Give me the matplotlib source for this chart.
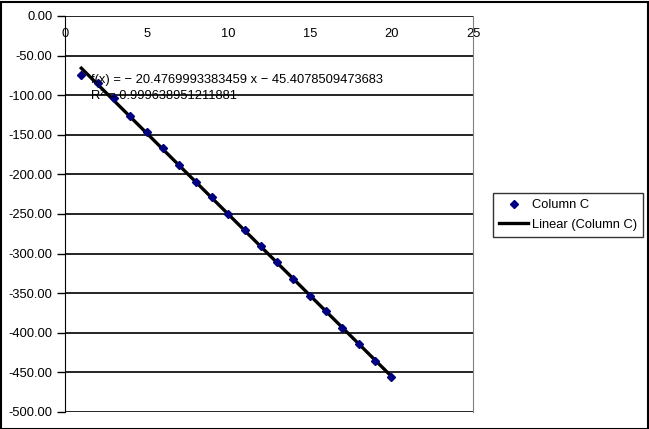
import matplotlib
matplotlib.use("Agg")
import matplotlib.pyplot as plt
import numpy as np
from matplotlib.patches import Rectangle

plt.rcParams['font.family'] = ['Liberation Sans', 'DejaVu Sans']

x_vals = [1, 2, 3, 4, 5, 6, 7, 8, 9, 10, 11, 12, 13, 14, 15, 16, 17, 18, 19, 20]
col_c = [-75, -85, -104, -126, -147, -167, -188, -209, -229, -250,
         -270, -291, -311, -332, -353, -373, -394, -414, -435, -456]
slope = -20.4769993383459
intercept = -45.4078509473683
r2 = 0.999638951211881
x_ticks = [0, 5, 10, 15, 20, 25]
y_ticks = [0, -50, -100, -150, -200, -250, -300, -350, -400, -450, -500]

FS = 9.3
W, H = 649, 429
fig = plt.figure(figsize=(W / 100, H / 100), dpi=100)
ax = fig.add_axes([65 / W, 1 - 412 / H, (473 - 65) / W, (412 - 16) / H])

ax.set_xlim(0, 25)
ax.set_ylim(-500, 0)
for y in y_ticks:
    ax.axhline(y, color='black', lw=1.2, zorder=1)

xs = np.array([x_vals[0], x_vals[-1]])
ax.plot(xs, slope * xs + intercept, color='black', lw=2.4, zorder=3,
        label='Linear (Column C)')
ax.plot(x_vals, col_c, linestyle='none', marker='D', ms=4.5, color='#000080',
        zorder=4, label='Column C')

ax.set_xticks(x_ticks)
ax.set_xticklabels([str(t) for t in x_ticks])
ax.set_yticks(y_ticks)
ax.set_yticklabels([f"{t:.2f}" for t in y_ticks])
ax.tick_params(axis='x', top=True, bottom=False, labeltop=True, labelbottom=False,
               direction='in', pad=-17, length=0, labelsize=FS)
ax.tick_params(axis='y', direction='out', length=6, width=1, labelsize=FS, pad=3)

for s in ['top', 'bottom']:
    ax.spines[s].set_visible(False)
ax.spines['left'].set_color('black')
ax.spines['right'].set_color('#808080')

ax.text(91 / W, 1 - 80 / H,
        f"f(x) = \u2212 {abs(slope):.13f} x \u2212 {abs(intercept):.13f}",
        transform=fig.transFigure, fontsize=FS, va='center', ha='left', zorder=5)
ax.text(91 / W, 1 - 96 / H, f"R\u00b2 = {r2:.15f}",
        transform=fig.transFigure, fontsize=FS, va='center', ha='left', zorder=5)

h, l = ax.get_legend_handles_labels()
leg = fig.legend([h[1], h[0]], [l[1], l[0]], loc='center left',
                 bbox_to_anchor=(493 / W, 1 - 215 / H), fontsize=FS,
                 frameon=True, fancybox=False, edgecolor='black',
                 borderpad=0.5, borderaxespad=0, handlelength=2.2,
                 handletextpad=0.3, labelspacing=0.6)
leg.get_frame().set_linewidth(1)

fig.patches.append(Rectangle((0.5 / W, 0.5 / H), (W - 2) / W, (H - 2) / H,
                             transform=fig.transFigure, fill=False,
                             edgecolor='black', lw=1.5))

fig.savefig('out.png', dpi=100)
